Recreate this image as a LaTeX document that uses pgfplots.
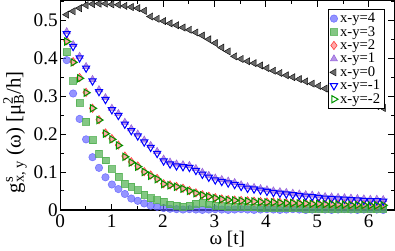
\documentclass[border=0pt]{standalone}
\usepackage{pgfplots}
\usepackage{pgfplotstable}
\usepackage{fontspec}
\setmainfont{Liberation Serif}
\pgfplotsset{compat=1.18}
\pgfplotstableread{
w a4 a3 a2 a1 a0 am1 am2
0.126 0.395 0.416 0.446 0.470 0.515 0.465 0.444
0.251 0.307 0.340 0.391 0.436 0.524 0.431 0.389
0.377 0.240 0.282 0.349 0.405 0.532 0.401 0.347
0.503 0.186 0.233 0.310 0.378 0.540 0.374 0.309
0.628 0.139 0.184 0.268 0.344 0.543 0.340 0.268
0.754 0.111 0.148 0.238 0.317 0.544 0.312 0.237
0.880 0.086 0.131 0.203 0.296 0.544 0.291 0.201
1.005 0.067 0.108 0.188 0.268 0.542 0.264 0.186
1.131 0.055 0.087 0.171 0.254 0.541 0.249 0.170
1.257 0.042 0.070 0.142 0.231 0.538 0.226 0.140
1.382 0.030 0.061 0.127 0.214 0.535 0.209 0.125
1.508 0.024 0.052 0.116 0.200 0.532 0.195 0.114
1.634 0.017 0.040 0.101 0.184 0.525 0.179 0.100
1.759 0.011 0.031 0.092 0.170 0.510 0.165 0.090
1.885 0.008 0.026 0.083 0.154 0.504 0.149 0.081
2.011 0.005 0.022 0.069 0.134 0.498 0.129 0.068
2.136 0.003 0.015 0.066 0.126 0.492 0.121 0.065
2.262 0.002 0.011 0.062 0.121 0.487 0.116 0.061
2.388 0.001 0.008 0.057 0.119 0.481 0.114 0.056
2.513 0.002 0.012 0.051 0.117 0.475 0.112 0.050
2.639 0.001 0.016 0.045 0.109 0.468 0.104 0.044
2.765 0.000 0.019 0.040 0.099 0.460 0.094 0.039
2.890 0.001 0.015 0.036 0.091 0.450 0.086 0.035
3.016 0.002 0.012 0.032 0.084 0.440 0.079 0.031
3.142 0.001 0.010 0.029 0.080 0.428 0.075 0.028
3.267 0.000 0.009 0.027 0.076 0.418 0.071 0.026
3.393 0.001 0.008 0.026 0.072 0.405 0.067 0.025
3.519 0.002 0.008 0.025 0.066 0.398 0.062 0.024
3.644 0.001 0.007 0.024 0.061 0.392 0.057 0.023
3.770 0.000 0.007 0.023 0.059 0.387 0.055 0.022
3.896 0.001 0.006 0.022 0.056 0.381 0.052 0.021
4.021 0.002 0.006 0.021 0.053 0.374 0.049 0.020
4.147 0.001 0.006 0.021 0.050 0.367 0.046 0.020
4.273 0.000 0.005 0.020 0.048 0.361 0.044 0.019
4.398 0.001 0.005 0.019 0.046 0.355 0.042 0.018
4.524 0.002 0.005 0.019 0.044 0.350 0.040 0.018
4.650 0.001 0.005 0.018 0.042 0.345 0.038 0.017
4.775 0.000 0.004 0.018 0.040 0.339 0.036 0.017
4.901 0.001 0.004 0.017 0.039 0.333 0.035 0.016
5.027 0.002 0.004 0.017 0.037 0.327 0.033 0.016
5.152 0.001 0.004 0.016 0.035 0.320 0.031 0.015
5.278 0.000 0.004 0.016 0.034 0.313 0.030 0.015
5.404 0.001 0.004 0.015 0.033 0.306 0.029 0.014
5.529 0.002 0.003 0.015 0.032 0.300 0.028 0.014
5.655 0.001 0.003 0.014 0.031 0.294 0.027 0.013
5.781 0.000 0.003 0.014 0.030 0.289 0.026 0.013
5.906 0.001 0.003 0.014 0.029 0.284 0.025 0.013
6.032 0.002 0.003 0.013 0.028 0.279 0.024 0.012
6.158 0.001 0.003 0.013 0.028 0.274 0.024 0.012
6.283 0.000 0.003 0.013 0.027 0.269 0.023 0.012
}\data
\definecolor{cblue}{RGB}{90,90,255}
\definecolor{cgreen}{RGB}{80,175,80}
\definecolor{cred}{RGB}{255,60,60}
\definecolor{cpurple}{RGB}{150,100,220}
\definecolor{cgray}{RGB}{105,105,105}
\definecolor{dgreen}{RGB}{0,150,0}
\begin{document}
\begin{tikzpicture}
\begin{axis}[
  scale only axis,
  width=330.5pt, height=207pt,
  xmin=0, xmax=6.5, ymin=0, ymax=0.552,
  xtick={0,1,2,3,4,5,6},
  minor xtick={0.5,1.5,2.5,3.5,4.5,5.5,6.5},
  ytick={0,0.1,0.2,0.3,0.4,0.5},
  yticklabels={0,0.1,0.2,0.3,0.4,0.5},
  minor ytick={0.05,0.15,0.25,0.35,0.45,0.55},
  tick align=inside,
  major tick length=6pt, minor tick length=3.5pt,
  every tick/.style={black, line width=0.9pt},
  axis line style={line width=1.2pt},
  /pgf/number format/assume math mode=true,
  tick label style={font=\fontsize{19}{21}\selectfont},
  xticklabel style={yshift=-1pt},
  yticklabel style={xshift=1pt},
  xlabel={ω [t]},
  xlabel style={font=\fontsize{19}{21}\selectfont, at={(axis description cs:0.5,-0.14)}, anchor=center},
  ylabel={g\rlap{\textsuperscript{s}}\textsubscript{x, y} (ω) [μ\rlap{\textsuperscript{2}}\textsubscript{B}/h]},
  ylabel style={font=\fontsize{20.5}{22}\selectfont, at={(axis description cs:-0.135,0.37)}, anchor=center},
  legend style={at={(axis description cs:0.97,0.961)}, anchor=north east, draw=black, line width=0.8pt,
    font=\fontsize{14.5}{14.5}\selectfont, row sep=-1.8pt, inner sep=1.8pt, cells={anchor=west}},
  legend cell align=left,
]
\addplot[only marks, mark=*, mark size=3.7pt, mark options={draw=cblue, fill=cblue, fill opacity=0.65, draw opacity=0.8, line width=0.5pt}] table[x=w,y=a4] {\data};
\addlegendentry{x-y=4}
\addplot[only marks, mark=square*, mark size=3.4pt, mark options={draw=cgreen, fill=cgreen, fill opacity=0.7, draw opacity=0.8, line width=0.5pt}] table[x=w,y=a3] {\data};
\addlegendentry{x-y=3}
\addplot[only marks, mark=diamond*, mark size=4.1pt, mark options={draw=cred, fill=cred!55!white, fill opacity=0.8, line width=0.6pt}] table[x=w,y=a2] {\data};
\addlegendentry{x-y=2}
\addplot[only marks, mark=triangle*, mark size=4.1pt, mark options={draw=cpurple, fill=cpurple, fill opacity=0.7, line width=0.5pt}] table[x=w,y=a1] {\data};
\addlegendentry{x-y=1}
\addplot[only marks, mark=triangle*, mark size=4.1pt, mark options={rotate=90, draw=black, fill=cgray, line width=0.4pt}] table[x=w,y=a0] {\data};
\addlegendentry{x-y=0}
\addplot[only marks, mark=triangle, mark size=4.1pt, mark options={rotate=180, draw=blue, line width=1pt}] table[x=w,y=am1] {\data};
\addlegendentry{x-y=-1}
\addplot[only marks, mark=triangle, mark size=4.1pt, mark options={rotate=270, draw=dgreen, line width=1pt}] table[x=w,y=am2] {\data};
\addlegendentry{x-y=-2}
\end{axis}
\end{tikzpicture}
\end{document}
